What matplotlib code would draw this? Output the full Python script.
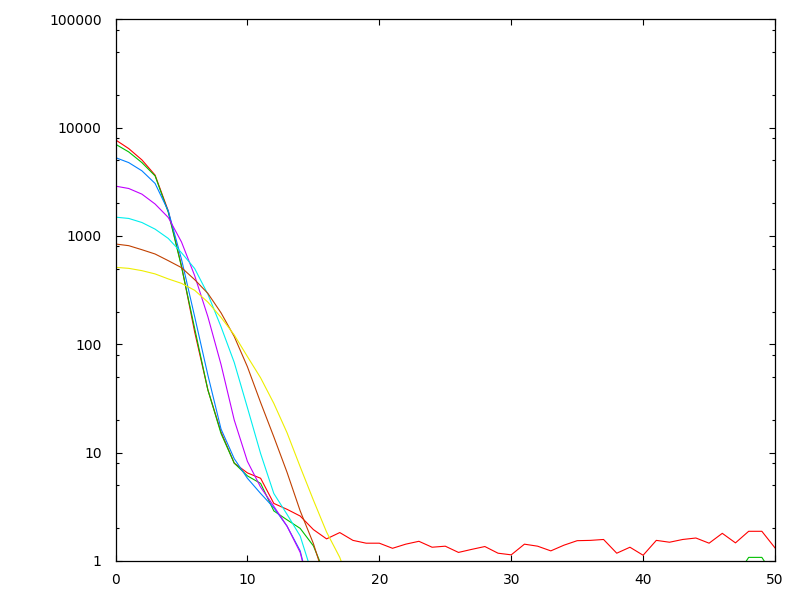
import matplotlib
matplotlib.use("Agg")
import matplotlib.pyplot as plt
from matplotlib.ticker import FixedLocator, LogLocator, NullFormatter, NullLocator

# values, one point per integer x
x_red = list(range(0, 51))
red = [7700, 6400, 5030, 3640, 1700, 530, 130, 38, 15.5, 8.0,
       6.5, 5.8, 3.4, 3.0, 2.6, 1.95, 1.6, 1.83, 1.55, 1.46,
       1.46, 1.31, 1.43, 1.52, 1.34, 1.37, 1.20, 1.28, 1.36, 1.18,
       1.14, 1.43, 1.37, 1.24, 1.40, 1.54, 1.55, 1.58, 1.18, 1.34,
       1.13, 1.55, 1.49, 1.58, 1.63, 1.46, 1.80, 1.47, 1.88, 1.88,
       1.32]

x_green = list(range(0, 51))
green = [7020, 5960, 4750, 3580, 1650, 520, 140, 38, 15, 8.0,
         6.1, 5.2, 2.9, 2.4, 2.0, 1.38, 0.7, 0.5, 0.5, 0.5,
         0.5, 0.5, 0.5, 0.5, 0.5, 0.5, 0.5, 0.5, 0.5, 0.5,
         0.5, 0.5, 0.5, 0.5, 0.5, 0.5, 0.5, 0.5, 0.5, 0.5,
         0.5, 0.5, 0.5, 0.5, 0.5, 0.5, 0.5, 0.7, 1.08, 1.08,
         0.7]

x_blue = list(range(0, 16))
blue = [5280, 4750, 3990, 3050, 1700, 610, 180, 52, 16.5, 8.8,
        5.8, 4.2, 3.1, 2.1, 1.24, 0.4]

x_purple = list(range(0, 16))
purple = [2880, 2740, 2430, 1970, 1480, 880, 430, 180, 65, 20,
          8.3, 4.8, 3.2, 2.1, 1.2, 0.4]

x_cyan = list(range(0, 16))
cyan = [1490, 1450, 1330, 1155, 948, 700, 500, 290, 145, 68,
        26, 9.8, 4.2, 2.7, 1.7, 0.7]

x_brown = list(range(0, 17))
brown = [842, 813, 746, 681, 591, 510, 395, 295, 195, 118,
         62, 29, 14, 6.6, 2.9, 1.45, 0.6]

x_yellow = list(range(0, 19))
yellow = [513, 502, 478, 446, 401, 365, 315, 245, 177, 122,
          77, 49, 28.5, 15.3, 7.4, 3.65, 1.85, 1.08, 0.5]

xticks = [0, 10, 20, 30, 40, 50]
yticks = [1, 10, 100, 1000, 10000, 100000]

fig = plt.figure(figsize=(8, 6), dpi=100)
ax = fig.add_axes([0.1444, 0.065, 0.8244, 0.903])

series = [
    (x_red, red, "#ff0000"),
    (x_green, green, "#00c000"),
    (x_blue, blue, "#0080ff"),
    (x_purple, purple, "#c000ff"),
    (x_cyan, cyan, "#00eeee"),
    (x_brown, brown, "#c04000"),
    (x_yellow, yellow, "#eeee00"),
]
for xs, ys, col in series:
    ax.plot(xs, ys, color=col, lw=0.8)

ax.set_yscale("log")
ax.set_xlim(0, 50)
ax.set_ylim(1, 100000)

ax.xaxis.set_major_locator(FixedLocator(xticks))
ax.xaxis.set_minor_locator(NullLocator())
ax.set_xticklabels([str(t) for t in xticks])
ax.yaxis.set_major_locator(FixedLocator(yticks))
ax.yaxis.set_minor_locator(LogLocator(base=10, subs=[2, 5, 8]))
ax.yaxis.set_minor_formatter(NullFormatter())
ax.set_yticklabels([str(t) for t in yticks])

ax.tick_params(which="both", direction="in", top=True, right=True,
               labelsize=10, width=0.8, colors="black")
ax.tick_params(which="major", length=4.5, pad=9)
ax.tick_params(which="minor", length=2.5)
ax.tick_params(axis="y", which="major", pad=10)
for s in ax.spines.values():
    s.set_linewidth(0.9)

fig.savefig("out.png", dpi=100)
